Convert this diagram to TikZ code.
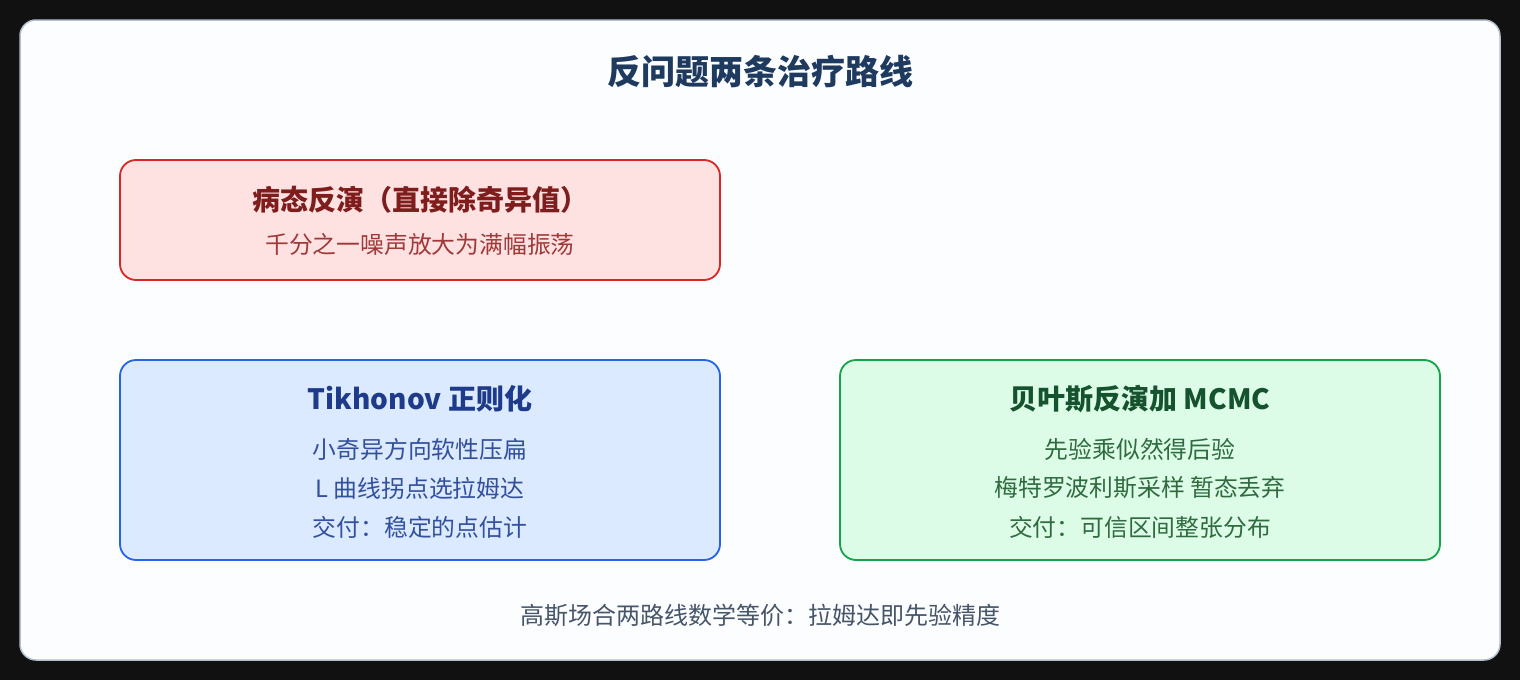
\documentclass[tikz,border=0pt]{standalone}
\usepackage{fontspec}
\setmainfont{Noto Sans CJK SC}
\definecolor{bgdark}{HTML}{111111}
\definecolor{cardfill}{HTML}{FBFDFF}
\definecolor{carddraw}{HTML}{B4BECC}
\definecolor{titlecol}{HTML}{1E3A5F}
\definecolor{redfill}{HTML}{FEE2E2}
\definecolor{reddraw}{HTML}{DC2626}
\definecolor{redtitle}{HTML}{7F1D1D}
\definecolor{redbody}{HTML}{A03A3A}
\definecolor{bluefill}{HTML}{DBEAFE}
\definecolor{bluedraw}{HTML}{2563EB}
\definecolor{bluetitle}{HTML}{1E3A8A}
\definecolor{bluebody}{HTML}{33509E}
\definecolor{greenfill}{HTML}{DCFCE7}
\definecolor{greendraw}{HTML}{16A34A}
\definecolor{greentitle}{HTML}{14532D}
\definecolor{greenbody}{HTML}{2F6B3F}
\definecolor{footcol}{HTML}{475569}
\begin{document}
\begin{tikzpicture}[x=1pt,y=-1pt,
  card/.style={draw=carddraw,fill=cardfill,line width=1.5pt,rounded corners=16pt,
    minimum width=1480pt,minimum height=640pt,inner sep=0pt},
  panel/.style={line width=1.8pt,rounded corners=16pt,minimum width=600pt,inner sep=0pt},
  redbox/.style={panel,draw=reddraw,fill=redfill,minimum height=120pt},
  bluebox/.style={panel,draw=bluedraw,fill=bluefill,minimum height=200pt},
  greenbox/.style={panel,draw=greendraw,fill=greenfill,minimum height=200pt},
  maintitle/.style={inner sep=0pt,text=titlecol,font=\fontsize{34}{40}\selectfont\bfseries},
  boxtitle/.style={inner sep=0pt,font=\fontsize{28}{32}\selectfont\bfseries},
  boxbody/.style={inner sep=0pt,font=\fontsize{23.8}{28}\selectfont},
  foot/.style={inner sep=0pt,text=footcol,font=\fontsize{24}{28}\selectfont}]
\useasboundingbox (0,0) rectangle (1520,680);
\fill[bgdark] (0,0) rectangle (1520,680);
\node[card] (card) at (760,340) {};
\node[maintitle] (title) at (760,72) {反问题两条治疗路线};
% red
\node[redbox] (ill) at (420,220) {};
\node[boxtitle,text=redtitle] (illT) at (420,200) {病态反演（直接除奇异值）};
\node[boxbody,text=redbody] (illB) at (420,244) {千分之一噪声放大为满幅振荡};
% blue
\node[bluebox] (tik) at (420,460) {};
\node[boxtitle,text=bluetitle] (tikT) at (420,399) {Tikhonov 正则化};
\node[boxbody,text=bluebody] (tik1) at (420,449) {小奇异方向软性压扁};
\node[boxbody,text=bluebody] (tik2) at (420,488) {L 曲线拐点选拉姆达};
\node[boxbody,text=bluebody] (tik3) at (420,527) {交付：稳定的点估计};
% green
\node[greenbox] (bay) at (1140,460) {};
\node[boxtitle,text=greentitle] (bayT) at (1140,399) {贝叶斯反演加 MCMC};
\node[boxbody,text=greenbody] (bay1) at (1140,449) {先验乘似然得后验};
\node[boxbody,text=greenbody] (bay2) at (1140,488) {梅特罗波利斯采样 暂态丢弃};
\node[boxbody,text=greenbody] (bay3) at (1140,527) {交付：可信区间整张分布};
% footer
\node[foot] (note) at (760,615) {高斯场合两路线数学等价：拉姆达即先验精度};
\end{tikzpicture}
\end{document}
